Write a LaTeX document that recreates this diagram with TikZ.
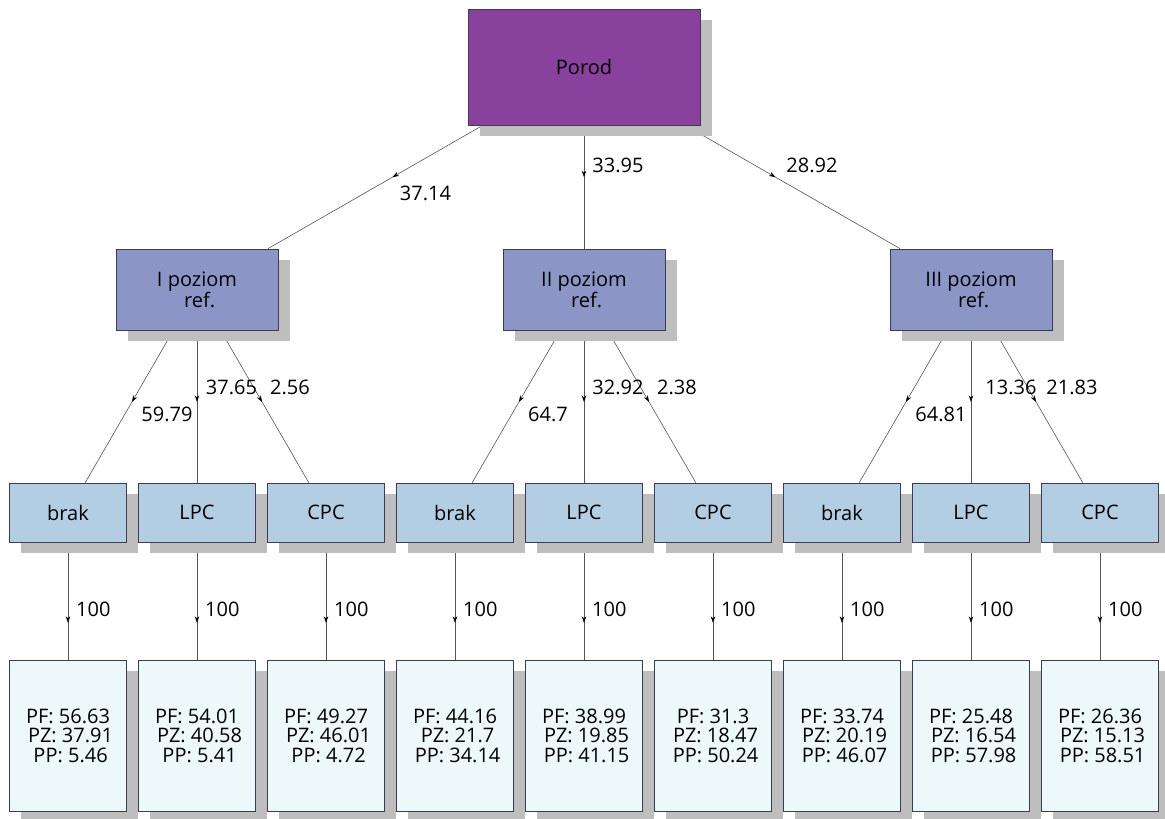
\documentclass[tikz,border=0pt]{standalone}
\usepackage{fontspec}
\setmainfont{Open Sans}
\usetikzlibrary{shadows,decorations.markings,arrows.meta,backgrounds}
\definecolor{rootfill}{HTML}{88419D}
\definecolor{lonefill}{HTML}{8C96C6}
\definecolor{ltwofill}{HTML}{B3CDE3}
\definecolor{leaffill}{HTML}{EDF8FB}
\definecolor{shadowgray}{HTML}{BEBEBE}
\definecolor{edgegray}{HTML}{555555}
\definecolor{boxborder}{HTML}{3C3C50}
\tikzset{
  box/.style={draw=boxborder, line width=0.8pt, rectangle, inner sep=0pt, align=center,
    font=\fontsize{20}{19.5}\selectfont,
    drop shadow={shadow xshift=11.5pt, shadow yshift=-11pt, fill=shadowgray, opacity=1}},
  rootbox/.style={box, fill=rootfill, minimum width=232pt, minimum height=116pt},
  levelone/.style={box, fill=lonefill, minimum width=162pt, minimum height=81pt},
  leveltwo/.style={box, fill=ltwofill, minimum width=117pt, minimum height=59pt},
  leafbox/.style={box, fill=leaffill, minimum width=117pt, minimum height=151pt},
  edge/.style={draw=edgegray, line width=0.6pt},
  midarrow/.style={postaction={decorate, decoration={markings,
      mark=at position #1 with {\arrow[black]{Stealth[length=6.5pt,width=4.5pt]}}}}},
  elabel/.style={font=\fontsize{20}{20}\selectfont, inner sep=0pt}
}
\newcommand{\lsp}{\hspace*{0.26em}}
\begin{document}
\begin{tikzpicture}[x=1pt,y=-1pt]
\useasboundingbox (0,0) rectangle (1165,819);
% nodes
\node[rootbox] (root) at (584,67) {Porod};
\node[levelone] (a) at (197,289.5) {I poziom\\\lsp ref.};
\node[levelone] (b) at (584,289.5) {II poziom\\\lsp ref.};
\node[levelone] (c) at (971,289.5) {III poziom\\\lsp ref.};
\node[leveltwo] (a1) at (68,512.5) {brak};
\node[leveltwo] (a2) at (197,512.5) {LPC};
\node[leveltwo] (a3) at (326,512.5) {CPC};
\node[leveltwo] (b1) at (455,512.5) {brak};
\node[leveltwo] (b2) at (584,512.5) {LPC};
\node[leveltwo] (b3) at (713,512.5) {CPC};
\node[leveltwo] (c1) at (842,512.5) {brak};
\node[leveltwo] (c2) at (971,512.5) {LPC};
\node[leveltwo] (c3) at (1100,512.5) {CPC};
\node[leafbox] (a1l) at (68,735.5) {PF: 56.63\\\lsp PZ: 37.91\\\lsp PP: 5.46};
\node[leafbox] (a2l) at (197,735.5) {PF: 54.01\\\lsp PZ: 40.58\\\lsp PP: 5.41};
\node[leafbox] (a3l) at (326,735.5) {PF: 49.27\\\lsp PZ: 46.01\\\lsp PP: 4.72};
\node[leafbox] (b1l) at (455,735.5) {PF: 44.16\\\lsp PZ: 21.7\\\lsp PP: 34.14};
\node[leafbox] (b2l) at (584,735.5) {PF: 38.99\\\lsp PZ: 19.85\\\lsp PP: 41.15};
\node[leafbox] (b3l) at (713,735.5) {PF: 31.3\\\lsp PZ: 18.47\\\lsp PP: 50.24};
\node[leafbox] (c1l) at (842,735.5) {PF: 33.74\\\lsp PZ: 20.19\\\lsp PP: 46.07};
\node[leafbox] (c2l) at (971,735.5) {PF: 25.48\\\lsp PZ: 16.54\\\lsp PP: 57.98};
\node[leafbox] (c3l) at (1100,735.5) {PF: 26.36\\\lsp PZ: 15.13\\\lsp PP: 58.51};
% edges
\begin{pgfonlayer}{background}
\foreach \t in {a,b,c}{\draw[edge, midarrow=0.42] (root) -- (\t);}
\foreach \s in {a,b,c}{
  \foreach \i in {1,2,3}{
    \draw[edge, midarrow=0.47] (\s) -- (\s\i);
    \draw[edge, midarrow=0.686] (\s\i) -- (\s\i l);
  }
}
\end{pgfonlayer}
% edge labels
\node[elabel] (e1) at (425.5,193) {37.14};
\node[elabel] (e2) at (618,165) {33.95};
\node[elabel] (e3) at (812,165) {28.92};
\node[elabel] (ea1) at (167,414) {59.79};
\node[elabel] (ea2) at (231.5,387) {37.65};
\node[elabel] (ea3) at (290,387) {2.56};
\node[elabel] (eb1) at (548,414) {64.7};
\node[elabel] (eb2) at (618,387) {32.92};
\node[elabel] (eb3) at (677,387) {2.38};
\node[elabel] (ec1) at (941,414) {64.81};
\node[elabel] (ec2) at (1011,387) {13.36};
\node[elabel] (ec3) at (1072,387) {21.83};
\foreach \x/\n in {68/a1,197/a2,326/a3,455/b1,584/b2,713/b3,842/c1,971/c2,1100/c3}{
  \node[elabel] (h\n) at (\x+25.3,609) {100};
}
\end{tikzpicture}
\end{document}
